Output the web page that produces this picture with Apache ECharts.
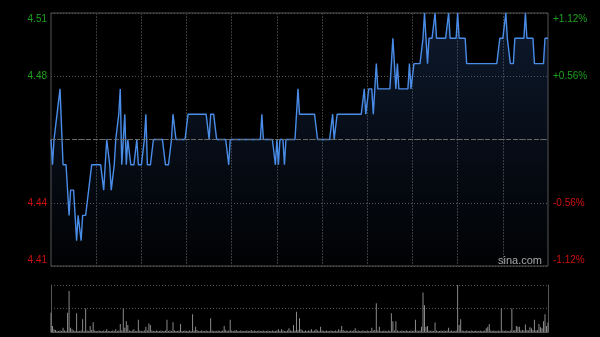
<!DOCTYPE html>
<html><head><meta charset="utf-8">
<script src="https://cdn.jsdelivr.net/npm/echarts@6/dist/echarts.min.js"></script>
<style>html,body{margin:0;padding:0;background:#000;}#c{width:600px;height:337px;}</style>
</head><body><div id="c"></div>
<script>
const prevClose = 4.46;
const priceStep = 0.025; // price value of one horizontal grid step

const prices = [
4.46,4.45,4.46,4.46,4.47,4.47,4.48,4.48,4.45,4.45,
4.45,4.45,4.43,4.44,4.44,4.44,4.43,4.42,4.43,4.43,
4.42,4.43,4.43,4.43,4.43,4.44,4.44,4.45,4.45,4.45,
4.45,4.45,4.45,4.45,4.45,4.44,4.45,4.46,4.46,4.45,
4.44,4.44,4.45,4.46,4.46,4.47,4.48,4.45,4.46,4.47,
4.45,4.46,4.46,4.45,4.45,4.45,4.45,4.46,4.45,4.45,
4.45,4.45,4.46,4.47,4.45,4.45,4.45,4.45,4.46,4.46,
4.46,4.46,4.46,4.46,4.46,4.46,4.45,4.45,4.45,4.45,
4.46,4.47,4.47,4.46,4.46,4.46,4.46,4.46,4.46,4.46,
4.46,4.47,4.47,4.47,4.47,4.47,4.47,4.47,4.47,4.47,
4.47,4.47,4.47,4.47,4.47,4.46,4.47,4.47,4.47,4.47,
4.46,4.46,4.46,4.46,4.46,4.46,4.46,4.46,4.45,4.46,
4.46,4.46,4.46,4.46,4.46,4.46,4.46,4.46,4.46,4.46,
4.46,4.46,4.46,4.46,4.46,4.46,4.46,4.46,4.46,4.46,
4.47,4.46,4.46,4.46,4.46,4.46,4.46,4.46,4.46,4.45,
4.46,4.45,4.46,4.46,4.46,4.45,4.46,4.46,4.46,4.46,
4.46,4.46,4.46,4.47,4.48,4.47,4.47,4.47,4.47,4.47,
4.47,4.47,4.47,4.47,4.47,4.47,4.47,4.46,4.46,4.46,
4.46,4.46,4.46,4.46,4.46,4.46,4.46,4.47,4.46,4.46,
4.47,4.47,4.47,4.47,4.47,4.47,4.47,4.47,4.47,4.47,
4.47,4.47,4.47,4.47,4.47,4.47,4.47,4.47,4.48,4.47,
4.47,4.48,4.48,4.48,4.47,4.48,4.49,4.48,4.48,4.48,
4.48,4.48,4.48,4.48,4.48,4.48,4.49,4.50,4.49,4.48,
4.49,4.48,4.48,4.48,4.48,4.48,4.48,4.48,4.49,4.48,
4.48,4.49,4.49,4.49,4.49,4.49,4.49,4.50,4.51,4.50,
4.49,4.50,4.50,4.50,4.50,4.51,4.50,4.50,4.50,4.50,
4.50,4.50,4.50,4.50,4.51,4.50,4.50,4.50,4.50,4.50,
4.51,4.50,4.50,4.50,4.50,4.50,4.49,4.49,4.49,4.49,
4.49,4.49,4.49,4.49,4.49,4.49,4.49,4.49,4.49,4.49,
4.49,4.49,4.49,4.49,4.49,4.49,4.49,4.49,4.50,4.50,
4.50,4.50,4.51,4.50,4.50,4.49,4.49,4.49,4.50,4.50,
4.50,4.50,4.50,4.50,4.50,4.51,4.50,4.50,4.50,4.50,
4.50,4.49,4.49,4.49,4.49,4.49,4.49,4.49,4.50,4.50,
4.50
];

const volumes = [
41,13,6,4,2,2,3,2,9,3,
2,41,87,9,6,3,2,40,2,2,
3,27,2,50,3,2,13,4,21,3,
2,2,3,2,2,3,2,6,2,2,
2,3,2,6,2,3,17,3,50,9,
23,15,3,2,3,6,2,2,26,3,
2,2,3,11,3,18,15,3,2,2,
3,2,2,3,2,2,3,26,2,3,
2,21,3,2,2,3,17,2,2,3,
2,2,3,2,38,3,11,4,2,2,
3,2,2,3,2,2,29,3,2,2,
2,3,2,2,3,13,4,2,3,26,
3,2,3,4,2,2,3,2,2,2,
3,2,2,4,2,3,2,2,3,2,
2,3,2,2,3,2,2,3,2,2,
3,6,2,6,3,2,2,3,8,3,
2,15,3,43,4,29,6,3,2,3,
2,3,3,6,2,3,6,3,2,11,
3,2,2,3,2,2,3,2,2,3,
2,6,3,13,4,2,3,2,2,3,
2,3,8,2,3,2,2,3,2,2,
3,2,2,9,3,4,61,3,11,2,
2,3,2,2,3,2,40,23,3,23,
3,2,2,3,2,2,3,2,2,3,
2,3,26,3,2,3,11,84,57,11,
13,3,2,3,2,20,3,2,2,3,
2,3,2,3,9,2,3,2,2,3,
100,15,27,3,2,2,3,2,2,3,
2,2,3,2,2,3,2,2,3,8,
11,17,3,2,3,2,2,3,2,50,
3,2,3,2,2,3,50,3,4,13,
11,11,3,4,3,16,4,3,10,8,
4,26,3,4,17,10,8,23,38,13,
20
];

const leftTickLabels = ['4.41','4.44','','4.48','4.51'];
const rightTickLabels = ['-1.12%','-0.56%','','+0.56%','+1.12%'];

// minute categories: 09:30-12:00, 13:01-16:00
const times = [];
function hm(m){const h=Math.floor(m/60),mm=m%60;return (h<10?'0':'')+h+':'+(mm<10?'0':'')+mm;}
for (let m = 570; m <= 720; m++) times.push(hm(m));
for (let m = 781; m <= 960; m++) times.push(hm(m));

const ySteps = prices.map(p => +((p - prevClose) / priceStep).toFixed(4));

const FONT = 'Liberation Sans, Arial, sans-serif';
const rich = {
  gt: {color: '#1fa01f', fontSize: 10, fontFamily: FONT, padding: [12,0,0,0]},
  g:  {color: '#1fa01f', fontSize: 10, fontFamily: FONT},
  r:  {color: '#d01010', fontSize: 10, fontFamily: FONT},
  rb: {color: '#d01010', fontSize: 10, fontFamily: FONT, padding: [0,0,12,0]}
};
function styled(list){
  return function(v){
    const idx = Math.round(v) + 2;
    const t = list[idx];
    if (!t) return '';
    const key = idx === 4 ? 'gt' : idx === 3 ? 'g' : idx === 1 ? 'r' : 'rb';
    return '{' + key + '|' + t + '}';
  };
}

const chart = echarts.init(document.getElementById('c'), null, {renderer: 'canvas'});
chart.setOption({
  backgroundColor: '#000',
  animation: false,
  grid: [
    {left: 51, right: 52, top: 13, height: 253, show: true, borderColor: '#555', borderWidth: 1, backgroundColor: 'transparent'},
    {left: 51, right: 52, top: 285, height: 47, show: false}
  ],
  xAxis: [
    {type: 'category', gridIndex: 0, data: times, boundaryGap: false,
     axisLine: {show: false}, axisTick: {show: false}, axisLabel: {show: false},
     splitLine: {show: true, interval: function(i){return i % 30 === 0 && i > 0 && i < 330;},
       lineStyle: {color: '#3a3a3a', type: [2,1], width: 1}}},
    {type: 'category', gridIndex: 1, data: times, boundaryGap: false,
     axisLine: {show: true, lineStyle: {color: '#555'}}, axisTick: {show: false}, axisLabel: {show: false},
     splitLine: {show: false}}
  ],
  yAxis: [
    {type: 'value', gridIndex: 0, position: 'left', min: -2, max: 2, interval: 1,
     axisLine: {show: false}, axisTick: {show: false},
     axisLabel: {margin: 4, formatter: styled(leftTickLabels), rich: rich},
     splitLine: {show: true, lineStyle: {color: '#555', type: [1,2], width: 1}}},
    {type: 'value', gridIndex: 0, position: 'right', min: -2, max: 2, interval: 1,
     axisLine: {show: false}, axisTick: {show: false},
     axisLabel: {margin: 5, formatter: styled(rightTickLabels), rich: rich},
     splitLine: {show: false}},
    {type: 'value', gridIndex: 1, position: 'left', min: 0, max: 100, interval: 50,
     axisLine: {show: true, lineStyle: {color: '#555'}}, axisTick: {show: false}, axisLabel: {show: false},
     splitLine: {show: true, lineStyle: {color: '#555', type: [1,2], width: 1}}},
    {type: 'value', gridIndex: 1, position: 'right', min: 0, max: 100, interval: 50,
     axisLine: {show: true, lineStyle: {color: '#555'}}, axisTick: {show: false}, axisLabel: {show: false},
     splitLine: {show: false}}
  ],
  series: [
    {type: 'line', xAxisIndex: 0, yAxisIndex: 0, data: ySteps, showSymbol: false, smooth: false,
     lineStyle: {color: '#4a8de8', width: 1.4},
     areaStyle: {origin: 'start', color: new echarts.graphic.LinearGradient(0,0,0,1,[
       {offset: 0, color: 'rgba(45,85,150,0.42)'},
       {offset: 1, color: 'rgba(45,85,150,0.03)'}])},
     markLine: {silent: true, symbol: 'none', label: {show: false},
       lineStyle: {color: '#6a6a6a', type: [5,2], width: 1},
       data: [{yAxis: 0}]}},
    {type: 'bar', xAxisIndex: 1, yAxisIndex: 2, data: volumes, barWidth: 1,
     itemStyle: {color: '#8a8a8a'}}
  ],
  graphic: [
    {type: 'text', left: 498, top: 255, style: {text: 'sina.com', fill: '#aaaaaa', font: '11px ' + FONT}}
  ]
});
</script></body></html>
